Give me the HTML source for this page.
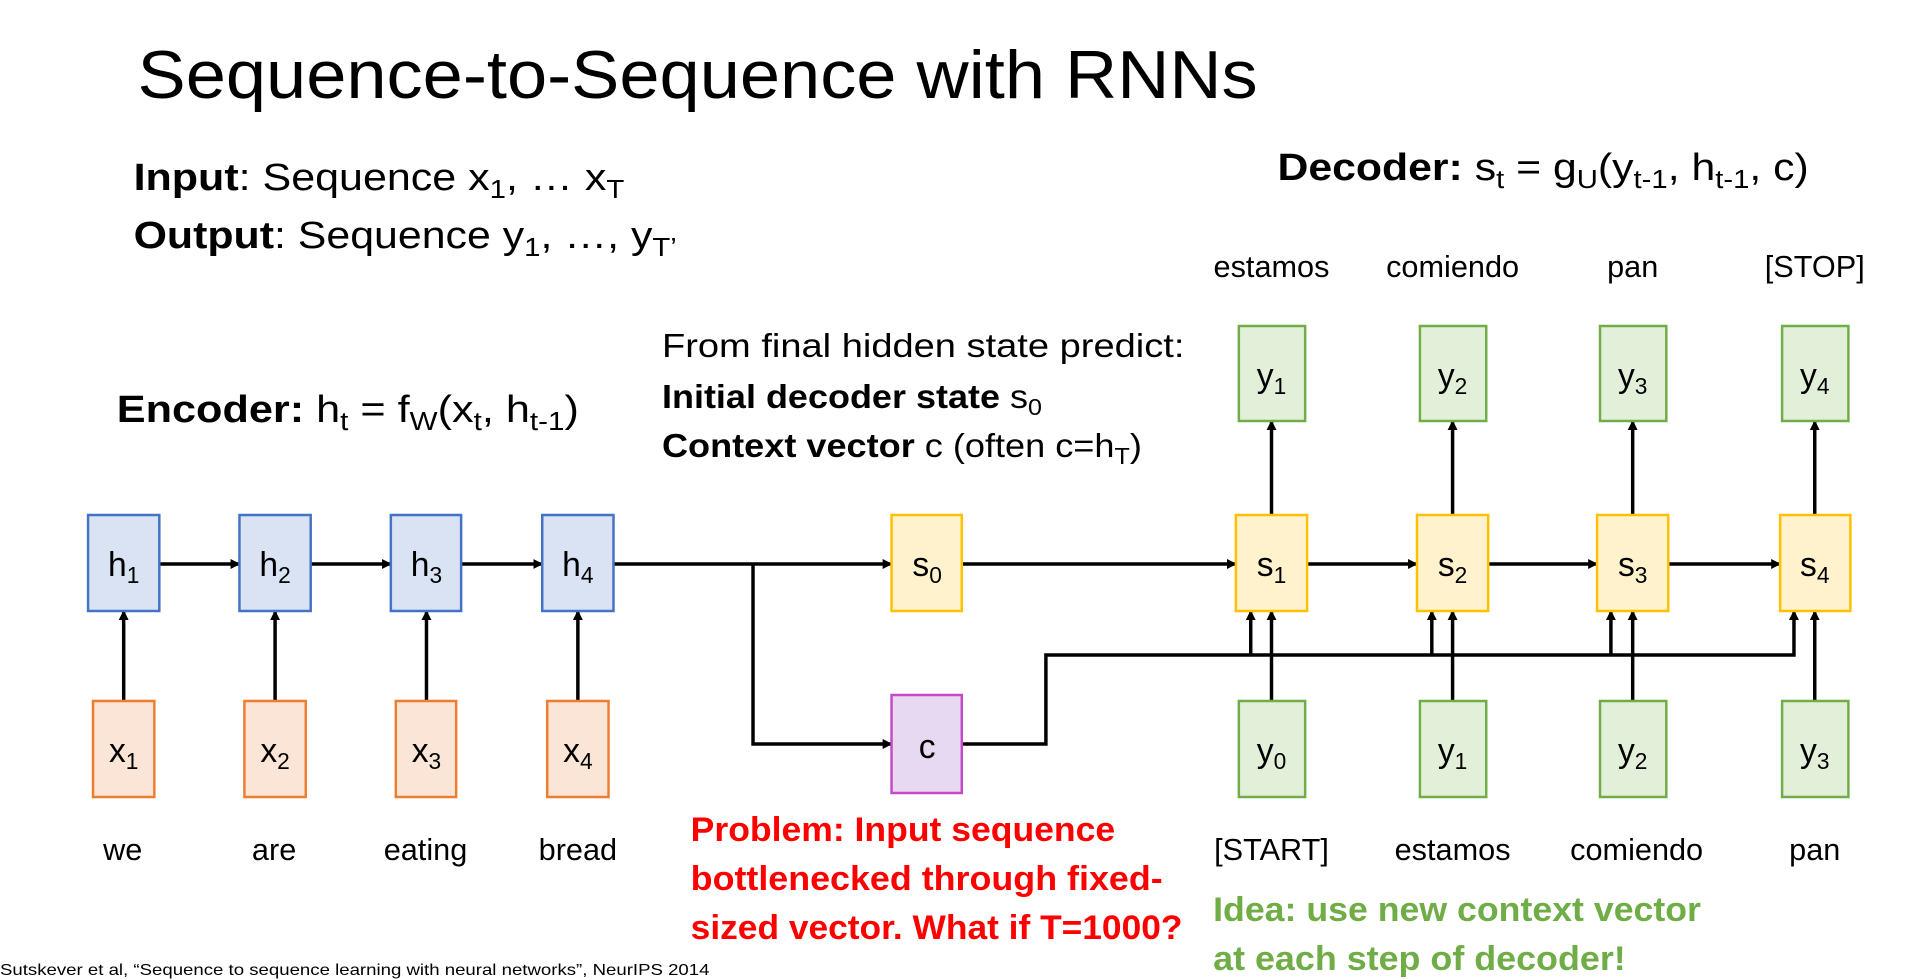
<!DOCTYPE html>
<html><head><meta charset="utf-8"><style>
html,body{margin:0;padding:0;background:#fff;}
svg{display:block;}
text{font-family:"Liberation Sans",sans-serif;}
</style></head><body>
<svg width="1920" height="979" viewBox="0 0 1920 979" xmlns="http://www.w3.org/2000/svg">
<defs>
<marker id="a" markerWidth="10" markerHeight="10" refX="9" refY="5" orient="auto" markerUnits="userSpaceOnUse">
<path d="M0,0 L10,5 L0,10 z" fill="#000"/></marker>
</defs>
<g transform="scale(0.9895 1)">
<text x="139" y="98" font-size="68" textLength="1132" lengthAdjust="spacingAndGlyphs">Sequence-to-Sequence with RNNs</text>
<text x="135" y="190" font-size="38" textLength="496" lengthAdjust="spacingAndGlyphs"><tspan font-weight="bold">Input</tspan>: Sequence x<tspan font-size="26" dy="8">1</tspan><tspan dy="-8">, … x</tspan><tspan font-size="26" dy="8">T</tspan></text>
<text x="135" y="248" font-size="38" textLength="549" lengthAdjust="spacingAndGlyphs"><tspan font-weight="bold">Output</tspan>: Sequence y<tspan font-size="26" dy="8">1</tspan><tspan dy="-8">, …, y</tspan><tspan font-size="26" dy="8">T’</tspan></text>
<text x="1291" y="180" font-size="38" textLength="537" lengthAdjust="spacingAndGlyphs"><tspan font-weight="bold">Decoder:</tspan> s<tspan font-size="26" dy="8">t</tspan><tspan dy="-8"> = g</tspan><tspan font-size="26" dy="8">U</tspan><tspan dy="-8">(y</tspan><tspan font-size="26" dy="8">t-1</tspan><tspan dy="-8">, h</tspan><tspan font-size="26" dy="8">t-1</tspan><tspan dy="-8">, c)</tspan></text>
<text x="118" y="422" font-size="38" textLength="467" lengthAdjust="spacingAndGlyphs"><tspan font-weight="bold">Encoder:</tspan> h<tspan font-size="26" dy="8">t</tspan><tspan dy="-8"> = f</tspan><tspan font-size="26" dy="8">W</tspan><tspan dy="-8">(x</tspan><tspan font-size="26" dy="8">t</tspan><tspan dy="-8">, h</tspan><tspan font-size="26" dy="8">t-1</tspan><tspan dy="-8">)</tspan></text>
<text x="669" y="357" font-size="33" textLength="528" lengthAdjust="spacingAndGlyphs">From final hidden state predict:</text>
<text x="669" y="408" font-size="33" textLength="384" lengthAdjust="spacingAndGlyphs"><tspan font-weight="bold">Initial decoder state</tspan> s<tspan font-size="23" dy="7">0</tspan></text>
<text x="669" y="457" font-size="33" textLength="485" lengthAdjust="spacingAndGlyphs"><tspan font-weight="bold">Context vector</tspan> c (often c=h<tspan font-size="23" dy="7">T</tspan><tspan dy="-7">)</tspan></text>

<g font-size="31" text-anchor="middle">
<text x="1285" y="277">estamos</text><text x="1468" y="277">comiendo</text><text x="1650" y="277">pan</text><text x="1834" y="277">[STOP]</text>
<text x="124" y="860">we</text><text x="277" y="860">are</text><text x="430" y="860">eating</text><text x="584" y="860">bread</text>
<text x="1285" y="860">[START]</text><text x="1468" y="860">estamos</text><text x="1654" y="860">comiendo</text><text x="1834" y="860">pan</text>
</g>
<g font-size="34" font-weight="bold" fill="#ff0000">
<text x="698" y="841" textLength="429" lengthAdjust="spacingAndGlyphs">Problem: Input sequence</text>
<text x="698" y="890" textLength="477" lengthAdjust="spacingAndGlyphs">bottlenecked through fixed-</text>
<text x="698" y="939" textLength="497" lengthAdjust="spacingAndGlyphs">sized vector. What if T=1000?</text>
</g>
<g font-size="34" font-weight="bold" fill="#70ad47">
<text x="1226" y="921" textLength="493" lengthAdjust="spacingAndGlyphs">Idea: use new context vector</text>
<text x="1226" y="970" textLength="417" lengthAdjust="spacingAndGlyphs">at each step of decoder!</text>
</g>
<text x="0" y="975" font-size="16" textLength="717" lengthAdjust="spacingAndGlyphs">Sutskever et al, “Sequence to sequence learning with neural networks”, NeurIPS 2014</text>

<g stroke="#000" stroke-width="3.5" fill="none">
<line x1="161" y1="564" x2="242" y2="564" marker-end="url(#a)"/>
<line x1="314" y1="564" x2="395" y2="564" marker-end="url(#a)"/>
<line x1="466" y1="564" x2="548" y2="564" marker-end="url(#a)"/>
<line x1="620" y1="564" x2="901" y2="564" marker-end="url(#a)"/>
<polyline points="761,564 761,744 901,744" marker-end="url(#a)"/>
<line x1="972" y1="564" x2="1249" y2="564" marker-end="url(#a)"/>
<line x1="1321" y1="564" x2="1432" y2="564" marker-end="url(#a)"/>
<line x1="1504" y1="564" x2="1614" y2="564" marker-end="url(#a)"/>
<line x1="1686" y1="564" x2="1799" y2="564" marker-end="url(#a)"/>
<polyline points="972,744 1057,744 1057,655 1813,655 1813,611" marker-end="url(#a)"/>
<line x1="1264" y1="655" x2="1264" y2="611" marker-end="url(#a)"/>
<line x1="1447" y1="655" x2="1447" y2="611" marker-end="url(#a)"/>
<line x1="1628" y1="655" x2="1628" y2="611" marker-end="url(#a)"/>
<line x1="125" y1="701" x2="125" y2="611" marker-end="url(#a)"/>
<line x1="278" y1="701" x2="278" y2="611" marker-end="url(#a)"/>
<line x1="431" y1="701" x2="431" y2="611" marker-end="url(#a)"/>
<line x1="584" y1="701" x2="584" y2="611" marker-end="url(#a)"/>
<line x1="1285" y1="701" x2="1285" y2="611" marker-end="url(#a)"/>
<line x1="1468" y1="701" x2="1468" y2="611" marker-end="url(#a)"/>
<line x1="1650" y1="701" x2="1650" y2="611" marker-end="url(#a)"/>
<line x1="1834" y1="701" x2="1834" y2="611" marker-end="url(#a)"/>
<line x1="1285" y1="515" x2="1285" y2="421" marker-end="url(#a)"/>
<line x1="1468" y1="515" x2="1468" y2="421" marker-end="url(#a)"/>
<line x1="1650" y1="515" x2="1650" y2="421" marker-end="url(#a)"/>
<line x1="1834" y1="515" x2="1834" y2="421" marker-end="url(#a)"/>
</g>

<g stroke-width="2.5">
<g fill="#dae3f3" stroke="#4472c4">
<rect x="89" y="515" width="72" height="96"/><rect x="242" y="515" width="72" height="96"/>
<rect x="395" y="515" width="71" height="96"/><rect x="548" y="515" width="72" height="96"/>
</g>
<g fill="#fbe5d6" stroke="#ed7d31">
<rect x="94" y="701" width="62" height="96"/><rect x="247" y="701" width="62" height="96"/>
<rect x="400" y="701" width="61" height="96"/><rect x="553" y="701" width="62" height="96"/>
</g>
<g fill="#fff2cc" stroke="#ffc000">
<rect x="901" y="515" width="71" height="96"/>
<rect x="1249" y="515" width="72" height="96"/><rect x="1432" y="515" width="72" height="96"/>
<rect x="1614" y="515" width="72" height="96"/><rect x="1799" y="515" width="71" height="96"/>
</g>
<rect x="901" y="695" width="71" height="98" fill="#e8d9f2" stroke="#c548c8"/>
<g fill="#e2f0d9" stroke="#70ad47">
<rect x="1252" y="326" width="67" height="95"/><rect x="1435" y="326" width="67" height="95"/>
<rect x="1617" y="326" width="67" height="95"/><rect x="1801" y="326" width="67" height="95"/>
<rect x="1252" y="701" width="67" height="96"/><rect x="1435" y="701" width="67" height="96"/>
<rect x="1617" y="701" width="67" height="96"/><rect x="1801" y="701" width="67" height="96"/>
</g>
</g>

<g font-size="34" text-anchor="middle">
<text x="125" y="576">h<tspan font-size="23" dy="7">1</tspan></text>
<text x="278" y="576">h<tspan font-size="23" dy="7">2</tspan></text>
<text x="431" y="576">h<tspan font-size="23" dy="7">3</tspan></text>
<text x="584" y="576">h<tspan font-size="23" dy="7">4</tspan></text>
<text x="125" y="762">x<tspan font-size="23" dy="7">1</tspan></text>
<text x="278" y="762">x<tspan font-size="23" dy="7">2</tspan></text>
<text x="431" y="762">x<tspan font-size="23" dy="7">3</tspan></text>
<text x="584" y="762">x<tspan font-size="23" dy="7">4</tspan></text>
<text x="937" y="576">s<tspan font-size="23" dy="7">0</tspan></text>
<text x="937" y="758">c</text>
<text x="1285" y="576">s<tspan font-size="23" dy="7">1</tspan></text>
<text x="1468" y="576">s<tspan font-size="23" dy="7">2</tspan></text>
<text x="1650" y="576">s<tspan font-size="23" dy="7">3</tspan></text>
<text x="1834" y="576">s<tspan font-size="23" dy="7">4</tspan></text>
<text x="1285" y="387">y<tspan font-size="23" dy="7">1</tspan></text>
<text x="1468" y="387">y<tspan font-size="23" dy="7">2</tspan></text>
<text x="1650" y="387">y<tspan font-size="23" dy="7">3</tspan></text>
<text x="1834" y="387">y<tspan font-size="23" dy="7">4</tspan></text>
<text x="1285" y="762">y<tspan font-size="23" dy="7">0</tspan></text>
<text x="1468" y="762">y<tspan font-size="23" dy="7">1</tspan></text>
<text x="1650" y="762">y<tspan font-size="23" dy="7">2</tspan></text>
<text x="1834" y="762">y<tspan font-size="23" dy="7">3</tspan></text>
</g>
</g>
</svg>
</body></html>
